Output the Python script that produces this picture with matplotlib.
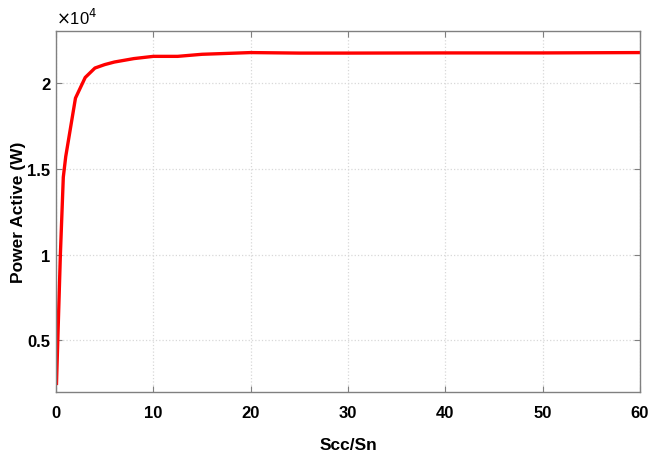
import matplotlib

matplotlib.use("Agg")
import matplotlib.pyplot as plt
from matplotlib.ticker import FuncFormatter

# Scc/Sn ratio and active power (W)
scc_sn = [0.05, 0.45, 0.75, 1.0, 2.0, 3.0, 4.0, 5.0, 6.0, 7.0, 8.0, 10.0, 12.5, 15.0, 20.0, 25.0, 30.0, 40.0, 50.0, 60.0]
power_w = [2500, 10000, 14500, 15700, 19100, 20300, 20850, 21050, 21200, 21300, 21400, 21530, 21530, 21650, 21750, 21720, 21720, 21730, 21730, 21750]

x_ticks = [0, 10, 20, 30, 40, 50, 60]
y_ticks = [5000, 10000, 15000, 20000]

plt.rcParams["font.family"] = ["Liberation Sans", "DejaVu Sans"]

fig = plt.figure(figsize=(6.55, 4.52), dpi=100)
ax = fig.add_axes([0.0855, 0.1305, 0.8915, 0.7985])

ax.plot(scc_sn, power_w, color="#ff0000", linewidth=2.4)

ax.set_xlim(0, 60)
ax.set_ylim(2000, 23000)
ax.set_xticks(x_ticks)
ax.set_yticks(y_ticks)
ax.yaxis.set_major_formatter(FuncFormatter(lambda v, _: f"{v / 1e4:g}"))

ax.grid(True, color="#d8d8d8", linestyle=":", linewidth=0.9)
ax.tick_params(direction="in", length=4, top=True, right=True, color="#808080", labelsize=12)
ax.tick_params(axis="y", pad=4)
ax.tick_params(axis="x", pad=9)
for label in ax.get_xticklabels() + ax.get_yticklabels():
    label.set_fontweight("bold")
for spine in ax.spines.values():
    spine.set_color("#808080")
    spine.set_linewidth(1.0)

ax.set_xlabel("Scc/Sn", fontsize=12.5, fontweight="bold")
ax.xaxis.set_label_coords(0.5, -0.125)
ax.set_ylabel("Power Active (W)", fontsize=12.5, fontweight="bold")
ax.yaxis.set_label_coords(-0.051, 0.5)
ax.text(0.0, 1.01, r"$\times$10$^4$", transform=ax.transAxes, fontsize=12, ha="left", va="bottom")

fig.savefig("out.png", dpi=100)
